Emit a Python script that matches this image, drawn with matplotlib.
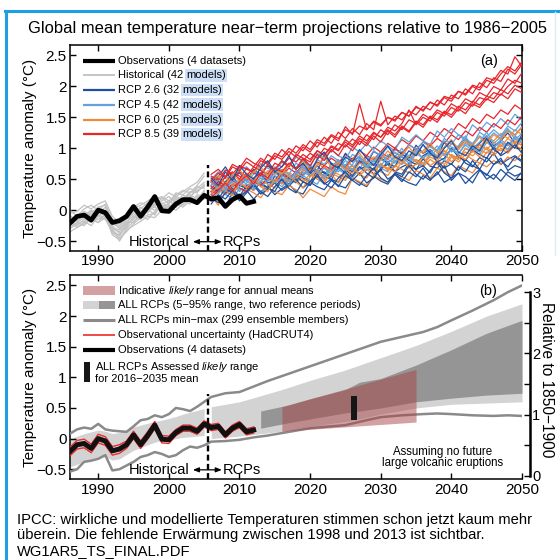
import numpy as np
import matplotlib
matplotlib.use('Agg')
import matplotlib.pyplot as plt
from matplotlib.lines import Line2D
from matplotlib.patches import Rectangle
from matplotlib.ticker import FuncFormatter, MultipleLocator

plt.rcParams['font.family'] = ['Liberation Sans', 'DejaVu Sans']
plt.rcParams['mathtext.fontset'] = 'custom'
plt.rcParams['mathtext.rm'] = 'Liberation Sans'
plt.rcParams['mathtext.it'] = 'Liberation Sans:italic'

# ---------------- data ----------------
obs_start = 1986
observations = [-0.21, -0.10, -0.08, -0.16, 0.00, -0.04, -0.20, -0.17, -0.10, 0.06,
                -0.10, 0.05, 0.22, -0.01, -0.02, 0.10, 0.17, 0.17, 0.12, 0.24,
                0.18, 0.20, 0.06, 0.17, 0.23, 0.11, 0.14]
obs_uncertainty = [0.07, 0.07, 0.07, 0.07, 0.07, 0.07, 0.07, 0.07, 0.06, 0.06,
                   0.06, 0.06, 0.06, 0.06, 0.06, 0.05, 0.05, 0.05, 0.05, 0.05,
                   0.05, 0.05, 0.05, 0.05, 0.05, 0.05, 0.05]

hist_start = 1986
historical_models = [
    [-0.20, -0.12, -0.05, -0.10, 0.02, -0.05, -0.30, -0.35, -0.20, -0.08, -0.02, 0.05, 0.00, 0.10, 0.15, 0.08, 0.20, 0.25, 0.18, 0.30],
    [-0.10, -0.18, -0.08, 0.00, -0.06, 0.05, -0.22, -0.28, -0.15, -0.05, 0.05, -0.02, 0.12, 0.08, 0.02, 0.18, 0.12, 0.28, 0.35, 0.45],
    [-0.28, -0.20, -0.25, -0.12, -0.15, -0.08, -0.40, -0.48, -0.30, -0.18, -0.10, -0.15, -0.02, 0.05, -0.02, 0.10, 0.05, 0.15, 0.22, 0.18],
    [-0.05, -0.02, 0.08, 0.02, 0.10, 0.15, -0.10, -0.20, -0.05, 0.05, 0.12, 0.08, 0.18, 0.22, 0.15, 0.25, 0.32, 0.28, 0.40, 0.55],
    [-0.15, -0.25, -0.15, -0.20, -0.08, -0.12, -0.25, -0.38, -0.28, -0.10, -0.15, 0.00, 0.05, -0.03, 0.08, 0.05, 0.15, 0.10, 0.25, 0.22],
    [-0.22, -0.08, -0.12, -0.02, -0.10, 0.00, -0.18, -0.30, -0.22, 0.00, -0.05, 0.10, 0.08, 0.15, 0.22, 0.12, 0.25, 0.35, 0.30, 0.40],
    [-0.12, -0.15, -0.02, -0.08, 0.05, -0.02, -0.32, -0.42, -0.25, -0.12, 0.00, -0.05, 0.10, 0.02, 0.12, 0.20, 0.15, 0.22, 0.32, 0.38],
    [-0.30, -0.22, -0.18, -0.25, -0.10, -0.15, -0.35, -0.45, -0.35, -0.22, -0.12, -0.08, -0.05, 0.08, 0.00, 0.05, 0.18, 0.12, 0.20, 0.28],
    [0.00, -0.10, 0.02, 0.08, 0.00, 0.10, -0.15, -0.22, -0.10, 0.02, 0.08, 0.15, 0.22, 0.18, 0.28, 0.22, 0.30, 0.38, 0.45, 0.60],
    [-0.18, -0.28, -0.20, -0.12, -0.20, -0.05, -0.28, -0.32, -0.18, -0.20, -0.05, 0.02, -0.08, 0.12, 0.05, 0.15, 0.08, 0.20, 0.15, 0.32],
    [-0.25, -0.15, -0.10, -0.18, -0.02, -0.10, -0.38, -0.40, -0.22, -0.15, -0.02, 0.00, 0.15, 0.05, 0.10, 0.22, 0.18, 0.30, 0.28, 0.42],
    [-0.08, -0.20, -0.12, -0.05, 0.05, 0.08, -0.20, -0.25, -0.12, -0.02, 0.02, 0.12, 0.05, 0.20, 0.10, 0.28, 0.24, 0.20, 0.38, 0.35],
    [-0.35, -0.28, -0.22, -0.15, -0.20, -0.12, -0.30, -0.50, -0.32, -0.25, -0.18, -0.10, -0.12, 0.00, 0.05, 0.00, 0.10, 0.22, 0.15, 0.25],
]

proj_start = 2006
rcp26 = [
    [0.30, 0.42, 0.25, 0.38, 0.45, 0.33, 0.50, 0.41, 0.36, 0.55, 0.48, 0.40, 0.58, 0.52, 0.46, 0.63, 0.55, 0.49, 0.70, 0.60,
     0.54, 0.66, 0.72, 0.58, 0.64, 0.79, 0.62, 0.70, 0.75, 0.65, 0.83, 0.71, 0.68, 0.80, 0.74, 0.90, 0.76, 0.70, 0.85, 0.78,
     0.92, 0.74, 0.82, 0.88, 0.80],
    [0.15, 0.22, 0.05, 0.28, 0.20, 0.32, 0.18, 0.30, 0.38, 0.25, 0.35, 0.42, 0.30, 0.26, 0.45, 0.38, 0.33, 0.48, 0.40, 0.36,
     0.52, 0.44, 0.38, 0.55, 0.47, 0.42, 0.58, 0.50, 0.44, 0.40, 0.56, 0.48, 0.62, 0.45, 0.52, 0.60, 0.43, 0.55, 0.66, 0.50,
     0.58, 0.47, 0.62, 0.55, 0.60],
    [0.45, 0.55, 0.70, 0.52, 0.60, 0.48, 0.66, 0.58, 0.72, 0.62, 0.55, 0.75, 0.68, 0.82, 0.70, 0.64, 0.88, 0.76, 0.70, 0.92,
     0.80, 0.86, 0.74, 0.95, 0.88, 0.82, 1.00, 0.90, 0.84, 1.05, 0.92, 0.98, 0.86, 1.10, 0.95, 1.02, 1.15, 0.98, 1.08, 1.20,
     1.04, 1.12, 1.25, 1.08, 1.18],
    [0.25, 0.18, 0.35, 0.28, 0.22, 0.40, 0.32, 0.45, 0.36, 0.30, 0.50, 0.42, 0.55, 0.46, 0.40, 0.58, 0.62, 0.50, 0.45, 0.65,
     0.56, 0.70, 0.60, 0.52, 0.68, 0.74, 0.62, 0.58, 0.76, 0.66, 0.72, 0.60, 0.80, 0.68, 0.75, 0.64, 0.82, 0.72, 0.66, 0.85,
     0.74, 0.80, 0.70, 0.86, 0.78],
    [0.38, 0.30, 0.46, 0.55, 0.40, 0.36, 0.52, 0.60, 0.44, 0.48, 0.62, 0.52, 0.45, 0.66, 0.58, 0.72, 0.60, 0.55, 0.78, 0.68,
     0.62, 0.80, 0.72, 0.66, 0.85, 0.76, 0.70, 0.92, 0.80, 0.74, 0.88, 0.95, 0.78, 0.84, 1.00, 0.86, 0.80, 0.98, 0.90, 0.84,
     1.02, 0.88, 0.95, 1.06, 0.92],
    [0.20, 0.12, 0.28, 0.35, 0.22, 0.30, 0.40, 0.26, 0.34, 0.44, 0.32, 0.40, 0.50, 0.36, 0.46, 0.55, 0.42, 0.50, 0.38, 0.56,
     0.48, 0.60, 0.44, 0.52, 0.66, 0.50, 0.58, 0.46, 0.62, 0.54, 0.68, 0.50, 0.58, 0.72, 0.48, 0.60, 0.54, 0.44, 0.64, 0.58,
     0.50, 0.66, 0.56, 0.48, 0.62],
    [0.10, 0.25, 0.18, 0.32, 0.15, 0.28, 0.42, 0.30, 0.22, 0.38, 0.50, 0.35, 0.28, 0.46, 0.40, 0.58, 0.44, 0.36, 0.52, 0.62,
     0.48, 0.40, 0.56, 0.68, 0.52, 0.45, 0.60, 0.54, 0.72, 0.58, 0.50, 0.64, 0.78, 0.60, 0.52, 0.70, 0.62, 0.80, 0.66, 0.56,
     0.74, 0.84, 0.64, 0.72, 0.68],
    [0.52, 0.40, 0.62, 0.48, 0.72, 0.58, 0.50, 0.68, 0.80, 0.62, 0.70, 0.88, 0.66, 0.76, 0.60, 0.82, 0.94, 0.74, 0.68, 0.86,
     0.78, 0.98, 0.84, 0.72, 0.90, 1.04, 0.86, 0.80, 0.96, 0.88, 1.06, 0.92, 0.84, 1.00, 1.12, 0.94, 0.88, 1.04, 0.96, 1.16,
     0.98, 0.90, 1.10, 1.00, 1.22],
]
rcp45 = [
    [0.35, 0.28, 0.44, 0.38, 0.50, 0.42, 0.36, 0.55, 0.48, 0.60, 0.52, 0.46, 0.64, 0.58, 0.70, 0.62, 0.56, 0.75, 0.68, 0.80,
     0.72, 0.66, 0.85, 0.78, 0.90, 0.82, 0.76, 0.95, 0.88, 1.00, 0.92, 1.05, 0.96, 1.10, 1.02, 0.98, 1.15, 1.08, 1.20, 1.12,
     1.25, 1.16, 1.30, 1.22, 1.35],
    [0.20, 0.32, 0.26, 0.18, 0.35, 0.30, 0.42, 0.28, 0.40, 0.46, 0.38, 0.50, 0.44, 0.56, 0.48, 0.42, 0.60, 0.54, 0.66, 0.58,
     0.52, 0.70, 0.64, 0.76, 0.68, 0.62, 0.80, 0.74, 0.86, 0.78, 0.72, 0.90, 0.84, 0.96, 0.88, 0.82, 1.00, 0.94, 1.06, 0.98,
     0.92, 1.10, 1.04, 1.15, 1.08],
    [0.50, 0.62, 0.55, 0.48, 0.66, 0.70, 0.58, 0.75, 0.68, 0.62, 0.80, 0.72, 0.86, 0.78, 0.70, 0.92, 0.84, 0.98, 0.88, 0.82,
     1.02, 0.94, 1.08, 0.98, 1.12, 1.04, 0.96, 1.18, 1.10, 1.22, 1.12, 1.06, 1.28, 1.18, 1.32, 1.22, 1.16, 1.38, 1.28, 1.42,
     1.34, 1.48, 1.38, 1.55, 1.45],
    [0.28, 0.40, 0.34, 0.46, 0.30, 0.44, 0.52, 0.38, 0.48, 0.56, 0.44, 0.58, 0.50, 0.62, 0.55, 0.66, 0.52, 0.70, 0.62, 0.74,
     0.66, 0.78, 0.70, 0.64, 0.82, 0.75, 0.88, 0.80, 0.72, 0.92, 0.84, 0.96, 0.88, 0.80, 1.00, 0.92, 1.05, 0.96, 0.90, 1.10,
     1.00, 1.14, 1.05, 1.18, 1.10],
    [0.40, 0.48, 0.36, 0.55, 0.62, 0.46, 0.58, 0.66, 0.52, 0.70, 0.64, 0.58, 0.76, 0.68, 0.62, 0.82, 0.74, 0.88, 0.80, 0.72,
     0.90, 0.84, 0.78, 0.96, 0.88, 1.02, 0.92, 0.86, 1.06, 0.98, 1.10, 1.02, 0.96, 1.16, 1.06, 1.22, 1.12, 1.05, 1.26, 1.18,
     1.30, 1.20, 1.36, 1.28, 1.42],
    [0.15, 0.30, 0.45, 0.28, 0.38, 0.50, 0.34, 0.46, 0.60, 0.44, 0.52, 0.40, 0.58, 0.72, 0.54, 0.64, 0.50, 0.70, 0.82, 0.62,
     0.74, 0.88, 0.68, 0.80, 0.94, 0.76, 0.86, 1.00, 0.82, 0.92, 1.06, 0.88, 0.98, 1.12, 0.94, 1.04, 1.20, 1.00, 1.10, 1.26,
     1.08, 1.18, 1.32, 1.14, 1.24],
    [0.45, 0.36, 0.30, 0.50, 0.42, 0.58, 0.40, 0.52, 0.46, 0.66, 0.56, 0.48, 0.62, 0.54, 0.74, 0.60, 0.68, 0.58, 0.78, 0.70,
     0.64, 0.84, 0.72, 0.80, 0.70, 0.90, 0.78, 0.86, 0.76, 0.96, 0.84, 0.92, 1.04, 0.88, 0.98, 0.90, 1.08, 1.00, 0.94, 1.14,
     1.02, 1.10, 0.98, 1.20, 1.12],
]
rcp60 = [
    [0.30, 0.38, 0.26, 0.42, 0.35, 0.30, 0.46, 0.40, 0.34, 0.50, 0.44, 0.38, 0.52, 0.46, 0.58, 0.50, 0.44, 0.60, 0.54, 0.48,
     0.64, 0.58, 0.52, 0.68, 0.62, 0.56, 0.72, 0.66, 0.60, 0.76, 0.70, 0.82, 0.74, 0.68, 0.86, 0.78, 0.90, 0.82, 0.76, 0.94,
     0.88, 1.00, 0.92, 1.05, 0.98],
    [0.22, 0.08, 0.30, 0.24, 0.18, 0.34, 0.28, 0.20, 0.36, 0.30, 0.25, 0.40, 0.33, 0.20, 0.34, 0.28, 0.22, 0.38, 0.30, 0.26,
     0.52, 0.46, 0.40, 0.56, 0.50, 0.45, 0.60, 0.54, 0.48, 0.64, 0.58, 0.52, 0.68, 0.62, 0.56, 0.72, 0.66, 0.60, 0.76, 0.70,
     0.80, 0.74, 0.86, 0.80, 0.92],
    [0.42, 0.50, 0.45, 0.56, 0.48, 0.60, 0.52, 0.46, 0.64, 0.58, 0.66, 0.60, 0.55, 0.70, 0.64, 0.76, 0.68, 0.62, 0.80, 0.72,
     0.66, 0.84, 0.78, 0.72, 0.88, 0.82, 0.94, 0.86, 0.80, 0.98, 0.92, 1.04, 0.96, 0.90, 1.08, 1.02, 1.14, 1.06, 1.00, 1.18,
     1.12, 1.24, 1.16, 1.30, 1.22],
    [0.32, 0.26, 0.40, 0.34, 0.44, 0.38, 0.32, 0.48, 0.42, 0.36, 0.52, 0.46, 0.56, 0.50, 0.44, 0.60, 0.54, 0.64, 0.58, 0.52,
     0.66, 0.60, 0.70, 0.64, 0.74, 0.68, 0.62, 0.78, 0.72, 0.82, 0.76, 0.86, 0.80, 0.74, 0.90, 0.84, 0.94, 0.88, 0.98, 0.92,
     1.02, 0.96, 1.08, 1.00, 1.12],
    [0.36, 0.44, 0.52, 0.40, 0.48, 0.56, 0.44, 0.60, 0.50, 0.45, 0.62, 0.55, 0.48, 0.66, 0.58, 0.52, 0.70, 0.62, 0.74, 0.66,
     0.60, 0.76, 0.70, 0.80, 0.72, 0.66, 0.84, 0.78, 0.88, 0.80, 0.74, 0.92, 0.86, 0.96, 0.88, 0.82, 1.00, 0.94, 1.06, 0.98,
     1.10, 1.02, 1.16, 1.08, 1.20],
    [0.26, 0.40, 0.32, 0.24, 0.44, 0.36, 0.52, 0.38, 0.30, 0.50, 0.42, 0.56, 0.46, 0.36, 0.54, 0.64, 0.48, 0.58, 0.44, 0.62,
     0.72, 0.56, 0.66, 0.58, 0.76, 0.64, 0.70, 0.82, 0.68, 0.74, 0.86, 0.72, 0.80, 0.92, 0.78, 0.88, 0.82, 0.96, 0.86, 1.02,
     0.92, 1.06, 0.96, 1.12, 1.04],
    [0.48, 0.56, 0.40, 0.58, 0.66, 0.50, 0.62, 0.70, 0.56, 0.68, 0.58, 0.74, 0.66, 0.80, 0.62, 0.72, 0.86, 0.70, 0.78, 0.66,
     0.82, 0.92, 0.76, 0.86, 0.80, 0.96, 0.84, 0.90, 1.02, 0.88, 0.96, 1.08, 0.92, 1.02, 1.14, 0.98, 1.10, 1.04, 1.18, 1.08,
     1.22, 1.14, 1.28, 1.20, 1.34],
]
rcp85 = [
    [0.40, 0.52, 0.45, 0.60, 0.55, 0.48, 0.66, 0.58, 0.72, 0.64, 0.78, 0.70, 0.86, 0.80, 0.92, 0.84, 1.00, 0.94, 1.08, 1.02,
     1.15, 1.06, 1.22, 1.14, 1.30, 1.22, 1.38, 1.30, 1.46, 1.40, 1.55, 1.48, 1.62, 1.56, 1.72, 1.65, 1.80, 1.74, 1.90, 1.84,
     2.00, 1.94, 2.12, 2.05, 2.22],
    [0.30, 0.42, 0.36, 0.48, 0.40, 0.52, 0.46, 0.58, 0.50, 0.62, 0.56, 0.68, 0.60, 0.74, 0.66, 0.78, 0.72, 0.84, 0.76, 0.90,
     0.82, 0.96, 0.88, 1.02, 0.94, 1.08, 1.00, 1.14, 1.06, 1.20, 1.12, 1.26, 1.18, 1.32, 1.24, 1.40, 1.32, 1.48, 1.40, 1.55,
     1.48, 1.62, 1.55, 1.70, 1.62],
    [0.55, 0.48, 0.65, 0.58, 0.72, 0.66, 0.62, 0.80, 0.74, 0.88, 0.82, 0.95, 0.86, 1.02, 0.94, 1.10, 1.04, 1.20, 1.12, 1.35,
     1.22, 1.72, 1.30, 1.42, 1.36, 1.50, 1.44, 1.58, 1.52, 1.68, 1.60, 1.75, 1.68, 1.82, 1.76, 1.92, 1.86, 2.00, 1.94, 2.10,
     2.05, 2.20, 2.32, 2.25, 2.40],
    [0.25, 0.35, 0.30, 0.42, 0.36, 0.30, 0.46, 0.40, 0.52, 0.45, 0.58, 0.50, 0.62, 0.56, 0.68, 0.60, 0.72, 0.66, 0.78, 0.70,
     0.84, 0.76, 0.88, 0.82, 0.94, 0.86, 1.00, 0.92, 1.06, 0.98, 1.10, 1.04, 1.16, 1.08, 1.22, 1.14, 1.28, 1.20, 1.34, 1.26,
     1.40, 1.32, 1.46, 1.38, 1.52],
    [0.46, 0.38, 0.54, 0.62, 0.50, 0.68, 0.60, 0.56, 0.74, 0.66, 0.80, 0.72, 0.90, 0.84, 0.78, 0.96, 0.88, 1.04, 0.98, 1.10,
     1.02, 1.16, 1.08, 1.24, 1.18, 1.30, 1.22, 1.36, 1.28, 1.44, 1.38, 1.52, 1.46, 1.60, 1.54, 1.68, 1.62, 1.76, 1.70, 1.84,
     1.80, 1.95, 1.88, 2.02, 1.96],
    [0.35, 0.46, 0.40, 0.52, 0.62, 0.55, 0.70, 0.64, 0.58, 0.76, 0.70, 0.84, 0.78, 0.90, 0.82, 0.96, 0.90, 1.02, 0.96, 1.14,
     1.05, 1.20, 1.12, 1.26, 1.18, 1.34, 1.28, 1.40, 1.62, 1.38, 1.50, 1.44, 1.58, 1.52, 1.66, 1.60, 1.74, 1.68, 1.82, 1.78,
     1.90, 1.86, 2.00, 2.10, 2.05],
    [0.48, 0.60, 0.52, 0.70, 0.64, 0.78, 0.70, 0.84, 0.76, 0.92, 0.86, 1.00, 0.92, 1.06, 0.98, 1.14, 1.08, 1.22, 1.16, 1.30,
     1.24, 1.36, 1.30, 1.44, 1.38, 1.50, 1.46, 1.58, 1.52, 1.66, 1.62, 1.74, 1.70, 1.84, 1.80, 1.92, 1.88, 2.02, 1.98, 2.14,
     2.10, 2.26, 2.20, 2.48, 2.32],
    [0.20, 0.32, 0.44, 0.30, 0.46, 0.56, 0.42, 0.60, 0.52, 0.68, 0.62, 0.76, 0.66, 0.84, 0.72, 0.90, 0.80, 0.98, 0.88, 1.06,
     0.96, 1.12, 1.04, 1.20, 1.10, 1.28, 1.18, 1.34, 1.26, 1.42, 1.34, 1.50, 1.42, 1.58, 1.50, 1.64, 1.56, 1.72, 1.66, 1.80,
     1.74, 1.88, 1.80, 1.96, 1.90],
    [0.58, 0.66, 0.54, 0.74, 0.68, 0.84, 0.76, 0.70, 0.90, 0.82, 0.98, 0.88, 1.04, 0.96, 1.12, 1.02, 1.18, 1.08, 1.26, 1.16,
     1.32, 1.22, 1.40, 1.30, 1.76, 1.38, 1.52, 1.46, 1.60, 1.54, 1.68, 1.62, 1.78, 1.70, 1.86, 1.80, 1.96, 1.88, 2.06, 1.98,
     2.14, 2.08, 2.28, 2.20, 2.36],
]

# panel (b): ranges
range_hist_low = [-0.46, -0.42, -0.38, -0.34, -0.30, -0.30, -0.35, -0.33, -0.26, -0.19,
                  -0.15, -0.10, -0.06, -0.03, -0.03, 0.00, 0.02, 0.03, 0.04, 0.05]
range_hist_high = [0.00, 0.04, 0.08, 0.11, 0.14, 0.12, 0.08, 0.10, 0.14, 0.19,
                   0.22, 0.25, 0.28, 0.30, 0.33, 0.36, 0.40, 0.43, 0.46, 0.49]
range_proj_years = [2006, 2010, 2013, 2016, 2020, 2025, 2027, 2030, 2035, 2040, 2045, 2050]
range_proj_low = [0.00, 0.04, 0.08, 0.12, 0.20, 0.28, 0.32, 0.40, 0.50, 0.56, 0.58, 0.60]
range_proj_high = [0.52, 0.60, 0.70, 0.80, 0.95, 1.12, 1.20, 1.32, 1.52, 1.75, 2.00, 2.20]
range2_years = [2013, 2017, 2020, 2025, 2027, 2030, 2035, 2040, 2045, 2050]
range2_low = [0.17, 0.26, 0.32, 0.42, 0.45, 0.50, 0.60, 0.66, 0.71, 0.74]
range2_high = [0.45, 0.55, 0.65, 0.80, 0.92, 0.98, 1.20, 1.45, 1.72, 1.93]

minmax_years = list(range(1986, 2006)) + [2006, 2008, 2010, 2012, 2014, 2016, 2018, 2020, 2022, 2025,
                                          2028, 2030, 2033, 2036, 2038, 2040, 2043, 2046, 2048, 2050]
minmax_high = [0.08, 0.15, 0.18, 0.16, 0.24, 0.15, 0.13, 0.12, 0.11, 0.20,
               0.30, 0.32, 0.38, 0.35, 0.40, 0.50, 0.48, 0.45, 0.52, 0.60,
               0.68, 0.74, 0.76, 0.85, 0.94, 1.02, 1.10, 1.18, 1.26, 1.38,
               1.50, 1.58, 1.66, 1.74, 1.82, 1.93, 2.09, 2.26, 2.39, 2.50]
minmax_low = [-0.54, -0.50, -0.38, -0.36, -0.33, -0.27, -0.52, -0.50, -0.44, -0.38,
              -0.30, -0.27, -0.22, -0.25, -0.30, -0.27, -0.19, -0.13, -0.15, -0.11,
              -0.05, -0.04, -0.02, 0.02, 0.05, 0.09, 0.13, 0.17, 0.19, 0.22,
              0.30, 0.35, 0.38, 0.40, 0.41, 0.40, 0.38, 0.37, 0.38, 0.37]

likely_years = [2016, 2035]
likely_low = [0.12, 0.27]
likely_high = [0.52, 1.13]
assessed_year = 2026.2
assessed_low, assessed_high = 0.30, 0.70
offset_1850_1900 = 0.61

x_ticks = [1990, 2000, 2010, 2020, 2030, 2040, 2050]
y_ticks = [-0.5, 0, 0.5, 1, 1.5, 2, 2.5]

C26, C45, C60, C85 = '#1f4f9e', '#5fa3df', '#f28a3b', '#e8252b'
GREY_HIST = '#c2c2c2'
LIGHT, DARK, MINMAX = '#d3d3d3', '#959595', '#8a8a8a'
PINK = (0.66, 0.27, 0.27)
LEG_FS = 8.0

fig = plt.figure(figsize=(5.6, 5.6), dpi=100)
axa = fig.add_axes([0.125, 0.5518, 0.8071, 0.3679])
axb = fig.add_axes([0.125, 0.1446, 0.8071, 0.3643])

fmt = FuncFormatter(lambda v, p: f'{v:g}'.replace('-', '\u2212'))
for ax in (axa, axb):
    ax.set_xlim(1986, 2050)
    ax.set_ylim(-0.66, 2.67)
    ax.set_xticks(x_ticks)
    ax.set_yticks(y_ticks)
    ax.yaxis.set_major_formatter(fmt)
    ax.tick_params(direction='in', length=4, width=1, labelsize=11, pad=2.5, top=True)
    for s in ax.spines.values():
        s.set_linewidth(1.1)
    ax.set_ylabel('Temperature anomaly (\u00b0C)', fontsize=11)
    ax.yaxis.set_label_coords(-0.072, 0.5)
    ax.vlines(2005.5, -0.66, 0.73, color='k', lw=1.7, linestyles=(0, (2.5, 1.4)), zorder=6)
    ax.text(2002.9, -0.51, 'Historical', ha='right', va='center', fontsize=10.5, zorder=7)
    ax.text(2007.7, -0.51, 'RCPs', ha='left', va='center', fontsize=10.5, zorder=7)
    ax.annotate('', xy=(2007.5, -0.51), xytext=(2003.4, -0.51),
                arrowprops=dict(arrowstyle='<|-|>,head_length=0.35,head_width=0.14', lw=0.9,
                                color='k', shrinkA=0, shrinkB=0), zorder=7)
axa.tick_params(right=True)
axb.tick_params(axis='x', pad=3.2)

# ---------------- panel (a) ----------------
for m in historical_models:
    axa.plot(np.arange(hist_start, hist_start + len(m)), m, color=GREY_HIST, lw=0.9, zorder=2)
groups = [(rcp26, C26), (rcp45, C45), (rcp60, C60), (rcp85, C85)]
for i in range(max(len(g) for g, _ in groups)):
    for g, c in groups:
        if i < len(g):
            axa.plot(np.arange(proj_start, proj_start + len(g[i])), g[i], color=c, lw=0.9, zorder=3)
obs_years = np.arange(obs_start, obs_start + len(observations))
axa.plot(obs_years, observations, color='k', lw=3.4, zorder=5)

HX0, HX1, TX = 0.028, 0.0995, 0.106


def row_text(ax, y, main, tail=None):
    t = ax.text(TX, y, main, transform=ax.transAxes, fontsize=LEG_FS, va='center', ha='left', zorder=9)
    if tail:
        ax.annotate(tail, xy=(1, 0), xycoords=t, xytext=(2.2, 0), textcoords='offset points',
                    fontsize=LEG_FS, va='bottom', ha='left', zorder=8,
                    bbox=dict(boxstyle='square,pad=0.12', fc='#cde0f7', ec='none'))


def handle_line(ax, y, color, lw):
    ax.add_line(Line2D([HX0, HX1], [y, y], transform=ax.transAxes, color=color, lw=lw,
                       solid_capstyle='butt', zorder=9))


rows_a = [(0.922, 'k', 3.0, 'Observations (4 datasets)', None),
          (0.852, '#b5b5b5', 1.1, 'Historical (42', 'models)'),
          (0.782, C26, 1.6, 'RCP 2.6 (32', 'models)'),
          (0.711, C45, 1.6, 'RCP 4.5 (42', 'models)'),
          (0.638, C60, 1.6, 'RCP 6.0 (25', 'models)'),
          (0.566, C85, 1.6, 'RCP 8.5 (39', 'models)')]
for y, c, lw, main, tail in rows_a:
    handle_line(axa, y, c, lw)
    row_text(axa, y, main, tail)
axa.text(0.927, 0.922, '(a)', transform=axa.transAxes, fontsize=10.5, ha='center', va='center')

# ---------------- panel (b) ----------------
hist_years = np.arange(hist_start, hist_start + len(range_hist_low))
axb.fill_between(hist_years, range_hist_low, range_hist_high, color=LIGHT, lw=0, zorder=1)
axb.fill_between(range_proj_years, range_proj_low, range_proj_high, color=LIGHT, lw=0, zorder=1)
axb.fill_between(range2_years, range2_low, range2_high, color=DARK, lw=0, zorder=2)
axb.plot(minmax_years, minmax_high, color=MINMAX, lw=1.8, zorder=3)
axb.plot(minmax_years, minmax_low, color=MINMAX, lw=1.8, zorder=3)
axb.fill_between(likely_years, likely_low, likely_high, color=PINK, alpha=0.5, lw=0, zorder=4)
axb.bar(assessed_year, assessed_high - assessed_low, bottom=assessed_low, width=0.9,
        color='#161616', zorder=5)
obs = np.array(observations)
unc = np.array(obs_uncertainty)
axb.plot(obs_years, obs + unc, color='#ee2a2a', lw=1.0, zorder=5)
axb.plot(obs_years, obs - unc, color='#ee2a2a', lw=1.0, zorder=5)
axb.plot(obs_years, obs, color='#111111', lw=3.6, zorder=6)
axb.spines['right'].set_visible(False)

# legend (b)
hw, hh = HX1 - HX0, 0.044
ta = axb.transAxes
axb.add_patch(Rectangle((HX0, 0.923 - hh / 2), hw, hh, transform=ta, fc=PINK, alpha=0.5, ec='none', zorder=9))
axb.add_patch(Rectangle((HX0, 0.853 - hh / 2), hw / 2, hh, transform=ta, fc=LIGHT, ec='none', zorder=9))
axb.add_patch(Rectangle((HX0 + hw / 2, 0.853 - hh / 2), hw / 2, hh, transform=ta, fc=DARK, ec='none', zorder=9))
handle_line(axb, 0.779, MINMAX, 2.2)
handle_line(axb, 0.706, '#ee2a2a', 1.2)
handle_line(axb, 0.632, 'k', 3.0)
axb.add_patch(Rectangle((0.031, 0.475), 0.013, 0.099, transform=ta, fc='#161616', ec='none', zorder=9))
row_text(axb, 0.923, r'Indicative $\it{likely}$ range for annual means')
row_text(axb, 0.853, 'ALL RCPs (5\u221295% range, two reference periods)')
row_text(axb, 0.779, 'ALL RCPs min\u2212max (299 ensemble members)')
row_text(axb, 0.706, 'Observational uncertainty (HadCRUT4)')
row_text(axb, 0.632, 'Observations (4 datasets)')
axb.text(0.0553, 0.549, r'ALL RCPs Assessed $\it{likely}$ range', transform=ta, fontsize=LEG_FS, va='center')
axb.text(0.0553, 0.490, 'for 2016\u22122035 mean', transform=ta, fontsize=LEG_FS, va='center')
axb.text(0.926, 0.923, '(b)', transform=ta, fontsize=10.5, ha='center', va='center', zorder=9)
axb.text(0.825, 0.134, 'Assuming no future', transform=ta, fontsize=8.3, ha='center', va='center')
axb.text(0.825, 0.078, 'large volcanic eruptions', transform=ta, fontsize=8.3, ha='center', va='center')

axr = axb.twinx()
lo, hi = axb.get_ylim()
axr.set_ylim(lo + offset_1850_1900, hi + offset_1850_1900)
for k in ('top', 'left', 'bottom'):
    axr.spines[k].set_visible(False)
axr.spines['right'].set_position(('outward', 5.8))
axr.spines['right'].set_bounds(0, 3)
axr.spines['right'].set_linewidth(1.8)
axr.set_yticks([0, 1, 2, 3])
axr.yaxis.set_minor_locator(MultipleLocator(0.5))
axr.tick_params(which='both', direction='in', length=4, width=1, labelsize=10.5, pad=1.5)
fig.text(547 / 560, 1 - 380 / 560, 'Relative to 1850\u22121900', rotation=270,
         ha='center', va='center', fontsize=11.2)

# ---------------- titles, frame, caption ----------------
fig.text(288 / 560, 1 - 28 / 560, 'Global mean temperature near\u2212term projections relative to 1986\u22122005',
         ha='center', va='center', fontsize=11.9)
blue = '#1e9fe3'
fig.add_artist(Line2D([5 / 560, 1], [1 - 11 / 560] * 2, color=blue, lw=2.2))
fig.add_artist(Line2D([6 / 560] * 2, [0, 1 - 11 / 560], color=blue, lw=2.2))
fig.add_artist(Line2D([555 / 560] * 2, [1 - 255 / 560, 1 - 12 / 560], color='#dde9f3', lw=1))
caption = ['IPCC: wirkliche und modellierte Temperaturen stimmen schon jetzt kaum mehr',
           '\u00fcberein. Die fehlende Erw\u00e4rmung zwischen 1998 und 2013 ist sichtbar.',
           'WG1AR5_TS_FINAL.PDF']
for i, line in enumerate(caption):
    fig.text(17 / 560, 1 - (520 + 15.5 * i) / 560, line, fontsize=10.6, va='center', ha='left')

fig.savefig('out.png', dpi=100)
